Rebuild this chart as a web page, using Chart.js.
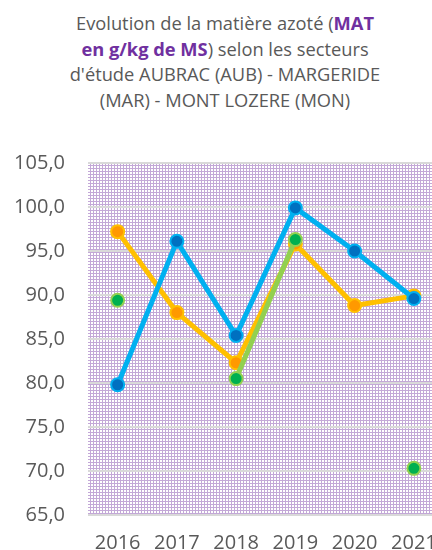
<!DOCTYPE html>
<html>
<head>
	<title>MAT en g/kg de MS</title>
	<script src="https://cdn.jsdelivr.net/npm/chart.js@4.4.0/dist/chart.umd.js"></script>
	<style>
		html, body { margin: 0; padding: 0; background: white; overflow: hidden; }
		body { width: 432px; height: 550px; position: relative; font-family: "Open Sans", sans-serif; }
		#title {
			position: absolute; top: 10px; left: 0; width: 450px;
			text-align: center; color: #595959; font-size: 18.3px; line-height: 25.7px;
			white-space: nowrap;
		}
		#title b { color: #7030a0; font-weight: 700; }
		#wrap { position: absolute; top: 0; left: 0; width: 452px; height: 550px; }
	</style>
</head>
<body>
	<div id="title">Evolution de la matière azoté (<b>MAT<br>en g/kg de MS</b>) selon les secteurs<br>d'étude AUBRAC (AUB) - MARGERIDE<br>(MAR) - MONT LOZERE (MON)</div>
	<div id="wrap"><canvas id="chart"></canvas></div>
<script>
	// valeurs
	const years = ['2016', '2017', '2018', '2019', '2020', '2021'];
	const aub = [97.2, 88.0, 82.3, 95.8, 88.8, 89.9];
	const mar = [89.4, null, 80.5, 96.3, null, 70.3];
	const mon = [79.8, 96.1, 85.4, 99.9, 95.0, 89.6];

	const grey = '#595959';

	// fond quadrillé violet de la zone de tracé
	function makePattern(ctx) {
		const c = document.createElement('canvas');
		c.width = 3; c.height = 3;
		const g = c.getContext('2d');
		g.fillStyle = '#ffffff';
		g.fillRect(0, 0, 3, 3);
		g.fillStyle = 'rgba(112,48,160,0.42)';
		g.fillRect(0, 0, 3, 1);
		g.fillRect(0, 1, 1, 2);
		return ctx.createPattern(c, 'repeat');
	}

	const plotBg = {
		id: 'plotBg',
		beforeDraw(chart) {
			const a = chart.chartArea, ctx = chart.ctx;
			ctx.save();
			ctx.fillStyle = makePattern(ctx);
			ctx.fillRect(a.left, a.top, a.right - a.left, a.bottom - a.top);
			ctx.restore();
		}
	};

	function serie(label, data, line, fill, order) {
		return {
			label: label,
			data: data,
			borderColor: line,
			borderWidth: 5,
			pointRadius: 6.5,
			pointBorderWidth: 2,
			pointBackgroundColor: fill,
			pointBorderColor: line,
			spanGaps: false,
			tension: 0,
			order: order
		};
	}

	new Chart(document.getElementById('chart'), {
		type: 'line',
		data: {
			labels: years,
			datasets: [
				serie('AUB', aub, '#ffc000', '#ff9900', 3),
				serie('MAR', mar, '#92d050', '#00b050', 2),
				serie('MON', mon, '#00b0f0', '#0070c0', 1)
			]
		},
		options: {
			responsive: true,
			maintainAspectRatio: false,
			animation: false,
			layout: { padding: { top: 163, left: 0, right: 0, bottom: 0 } },
			plugins: {
				legend: { display: false },
				title: { display: false },
				tooltip: { enabled: false }
			},
			scales: {
				x: {
					offset: true,
					grid: { display: false },
					border: { display: false },
					ticks: { color: grey, font: { family: 'Open Sans', size: 20 }, padding: 8 },
					afterFit(s) { s.height = 35; }
				},
				y: {
					min: 65, max: 105,
					grid: { color: '#d9d9d9', lineWidth: 2, drawTicks: false },
					border: { display: false },
					ticks: {
						stepSize: 5, color: grey, padding: 23,
						font: { family: 'Open Sans', size: 20 },
						callback: v => v.toFixed(1).replace('.', ',')
					},
					afterFit(s) { s.width = 88; }
				}
			}
		},
		plugins: [plotBg]
	});
</script>
</body>
</html>
